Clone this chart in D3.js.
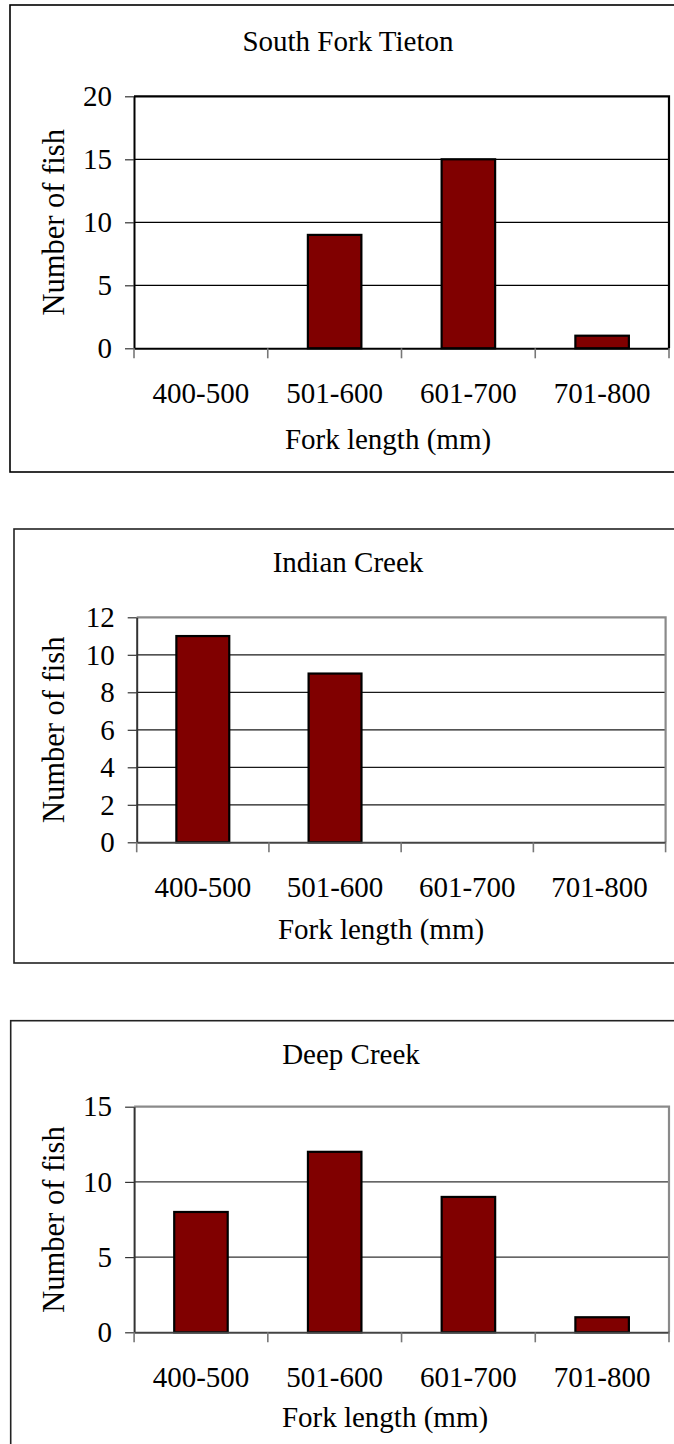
<!DOCTYPE html>
<html>
<head>
<meta charset="utf-8">
<script src="https://cdn.jsdelivr.net/npm/d3@7"></script>
<style>
  html, body { margin: 0; padding: 0; background: #fff; }
  svg { display: block; }
  svg text { font-family: "Liberation Serif", "Times New Roman", Times, serif !important; fill: #000; }
</style>
</head>
<body>
<svg id="chart" width="674" height="1444"></svg>
<script>
// Fork-length classes shared by all three streams
const categories = ["400-500", "501-600", "601-700", "701-800"];

// Number of fish per length class
const southForkTieton = [0, 9, 15, 1];
const indianCreek = [11, 9, 0, 0];
const deepCreek = [8, 12, 9, 1];

// Panel titles
const panelTitles = ["South Fork Tieton", "Indian Creek", "Deep Creek"];

// Y-axis tick labels for each panel
const ticksSouthFork = [0, 5, 10, 15, 20];
const ticksIndian = [0, 2, 4, 6, 8, 10, 12];
const ticksDeep = [0, 5, 10, 15];

const yAxisTitle = "Number of fish";
const xAxisTitle = "Fork length (mm)";

// Layout of each framed chart on the page
const panels = [
  { title: panelTitles[0], values: southForkTieton, ticks: ticksSouthFork,
    frame: { x: 10, y: 5, w: 690, h: 467 },
    plot: { x0: 134, x1: 669, y0: 96.3, y1: 348.3 },
    titleX: 348, titleY: 51, xTitleX: 388, xTitleY: 449,
    frameColor: "#000", borderColor: "#000", gridColor: "#000", axisColor: "#000" },
  { title: panelTitles[1], values: indianCreek, ticks: ticksIndian,
    frame: { x: 14, y: 529, w: 690, h: 434 },
    plot: { x0: 136.7, x1: 665.6, y0: 617.3, y1: 842.3 },
    titleX: 348, titleY: 572, xTitleX: 381, xTitleY: 938.5,
    frameColor: "#222", borderColor: "#8a8a8a", gridColor: "#1a1a1a", axisColor: "#444" },
  { title: panelTitles[2], values: deepCreek, ticks: ticksDeep,
    frame: { x: 10.7, y: 1020.7, w: 690, h: 460 },
    plot: { x0: 134.1, x1: 669, y0: 1106.7, y1: 1332.3 },
    titleX: 351, titleY: 1063.5, xTitleX: 385, xTitleY: 1427,
    frameColor: "#222", borderColor: "#8a8a8a", gridColor: "#333", axisColor: "#444" }
];

const svg = d3.select("#chart");
const fontSize = 29;
const serif = "'Liberation Serif', 'Times New Roman', Times, serif";

function styleText(sel, size) {
  sel.attr("font-family", serif)
     .style("font-family", serif)
     .attr("font-size", size)
     .attr("fill", "#000");
}

panels.forEach(p => {
  const g = svg.append("g");
  const { x0, x1, y0, y1 } = p.plot;

  // Outer chart frame
  g.append("rect")
    .attr("x", p.frame.x).attr("y", p.frame.y)
    .attr("width", p.frame.w).attr("height", p.frame.h)
    .attr("fill", "#fff")
    .attr("stroke", p.frameColor)
    .attr("stroke-width", 1.6);

  const x = d3.scaleBand()
    .domain(categories)
    .range([x0, x1])
    .paddingInner(0.6)
    .paddingOuter(0.3);

  const yMax = d3.max(p.ticks);
  const y = d3.scaleLinear().domain([0, yMax]).range([y1, y0]);

  // Horizontal gridlines
  g.append("g")
    .selectAll("line")
    .data(p.ticks.filter(t => t > 0 && t < yMax))
    .join("line")
    .attr("x1", x0).attr("x2", x1)
    .attr("y1", d => y(d)).attr("y2", d => y(d))
    .attr("stroke", p.gridColor)
    .attr("stroke-width", 1.2);

  // Bars
  g.append("g")
    .selectAll("rect")
    .data(categories.map((c, i) => ({ c, v: p.values[i] })).filter(d => d.v > 0))
    .join("rect")
    .attr("x", d => x(d.c))
    .attr("y", d => y(d.v))
    .attr("width", x.bandwidth())
    .attr("height", d => y(0) - y(d.v))
    .attr("fill", "#800000")
    .attr("stroke", "#000")
    .attr("stroke-width", 2.2);

  // Top and right borders of the plot area
  g.append("path")
    .attr("d", `M${x0},${y0}H${x1}V${y1}`)
    .attr("fill", "none")
    .attr("stroke", p.borderColor)
    .attr("stroke-width", 2.2);

  // Y axis
  const yAxis = g.append("g")
    .attr("transform", `translate(${x0},0)`)
    .call(d3.axisLeft(y).tickValues(p.ticks).tickFormat(d3.format("d"))
      .tickSize(9).tickSizeOuter(0).tickPadding(13));
  yAxis.select(".domain").attr("stroke", p.axisColor === "#000" ? "#000" : "#333").attr("stroke-width", 2);
  yAxis.selectAll(".tick line").attr("stroke", "#333").attr("stroke-width", 1.2);
  styleText(yAxis.selectAll("text"), fontSize);

  // X axis: category labels centred in each class, ticks on class boundaries
  const xAxis = g.append("g")
    .attr("transform", `translate(0,${y1})`)
    .call(d3.axisBottom(x).tickSize(0).tickPadding(0));
  xAxis.select(".domain").attr("stroke", p.axisColor).attr("stroke-width", 2);
  styleText(xAxis.selectAll("text"), fontSize);
  xAxis.selectAll("text").attr("dy", 0).attr("y", 55);

  const step = x.step();
  const bounds = d3.range(categories.length + 1).map(i => x.range()[0] + i * step);
  g.append("g")
    .selectAll("line")
    .data(bounds)
    .join("line")
    .attr("x1", d => d).attr("x2", d => d)
    .attr("y1", y1).attr("y2", y1 + 10)
    .attr("stroke", "#777")
    .attr("stroke-width", 1.6);

  // Titles
  styleText(g.append("text")
    .attr("x", p.titleX).attr("y", p.titleY)
    .attr("text-anchor", "middle")
    .text(p.title), fontSize);

  styleText(g.append("text")
    .attr("x", p.xTitleX).attr("y", p.xTitleY)
    .attr("text-anchor", "middle")
    .text(xAxisTitle), fontSize);

  styleText(g.append("text")
    .attr("transform", `translate(64,${(y0 + y1) / 2}) rotate(-90)`)
    .attr("text-anchor", "middle")
    .text(yAxisTitle), 30.5);
});
</script>
</body>
</html>
